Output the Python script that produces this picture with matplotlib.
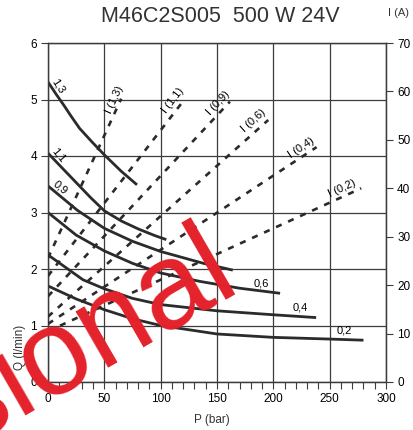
import numpy as np
import matplotlib
matplotlib.use('Agg')
import matplotlib.pyplot as plt
from matplotlib.ticker import MultipleLocator

plt.rcParams['font.family'] = ['Liberation Sans', 'DejaVu Sans']

# flow curves Q (l/min) over pressure P (bar), one per displacement
disp_names = ['1,3', '1,1', '0,9', '0,6', '0,4', '0,2']
p_13 = [0, 7, 14, 21, 28, 39, 50, 65, 79]
q_13 = [5.31, 5.10, 4.90, 4.69, 4.49, 4.25, 4.02, 3.73, 3.49]
p_11 = [0, 12, 25, 38, 50, 65, 80, 95, 105]
q_11 = [4.05, 3.80, 3.53, 3.26, 3.03, 2.85, 2.71, 2.59, 2.52]
p_09 = [0, 26, 50, 75, 100, 138, 164]
q_09 = [3.47, 3.04, 2.72, 2.49, 2.31, 2.10, 1.98]
p_06 = [0, 25, 50, 75, 100, 135, 170, 206]
q_06 = [3.00, 2.60, 2.32, 2.10, 1.93, 1.78, 1.66, 1.57]
p_04 = [0, 31, 50, 75, 100, 150, 200, 238]
q_04 = [2.25, 1.81, 1.65, 1.48, 1.37, 1.26, 1.19, 1.14]
p_02 = [0, 25, 50, 75, 100, 150, 200, 250, 280]
q_02 = [1.70, 1.47, 1.28, 1.12, 1.00, 0.85, 0.79, 0.76, 0.74]

# current lines I (A): value at P=0 and at the end of the line
i_names = ['I (1,3)', 'I (1,1)', 'I (0,9)', 'I (0,6)', 'I (0,4)', 'I (0,2)']
i_start = [25.6, 21.9, 17.7, 13.5, 12.0, 10.5]
i_end_p = [65, 120, 161.5, 195.5, 238.4, 278]
i_end = [58.5, 58.0, 57.9, 54.1, 48.5, 40.0]

p_curves = [p_13, p_11, p_09, p_06, p_04, p_02]
q_curves = [q_13, q_11, q_09, q_06, q_04, q_02]

dark = '#2b2b2b'
grid_c = '#3c3c3c'

fig = plt.figure(figsize=(4.13, 4.30), dpi=100)
ax = fig.add_axes([48/413, 1-382/430, 338/413, 339/430])
ax2 = ax.twinx()

ax.set_xlim(0, 300)
ax.set_ylim(0, 6)
ax2.set_ylim(0, 70)

ax.set_xticks(np.arange(0, 301, 50))
ax.xaxis.set_minor_locator(MultipleLocator(10))
ax.set_yticks(np.arange(0, 7, 1))
ax2.set_yticks(np.arange(0, 71, 10))
ax.grid(True, which='major', color=grid_c, lw=0.9)
ax.set_axisbelow(True)

for a in (ax, ax2):
    for s in a.spines.values():
        s.set_color(grid_c)
        s.set_linewidth(0.9)
ax.tick_params(which='both', direction='out', length=5, width=0.8, color=grid_c,
               labelsize=8.5, pad=3)
ax2.tick_params(direction='out', length=5, width=0.8, color=grid_c,
                labelsize=8.5, pad=3)

# solid flow curves
for p, q in zip(p_curves, q_curves):
    ax.plot(p, q, color=dark, lw=2.0, solid_capstyle='butt', zorder=3)

# dashed current lines
for i in range(len(i_names)):
    ax2.plot([0, i_end_p[i]], [i_start[i], i_end[i]], color=dark, lw=1.9,
             linestyle=(0, (2.3, 2.7)), zorder=3)

# labels of the current lines
i_lab_p = [59.5, 110.9, 150.8, 182.8, 224.5, 260.8]
i_lab_i = [58.2, 58.2, 57.6, 53.9, 48.3, 40.0]
for i in range(len(i_names)):
    ang = np.degrees(np.arctan2(i_end[i] - i_start[i], i_end_p[i]))
    ax2.text(i_lab_p[i], i_lab_i[i], i_names[i], fontsize=8, rotation=ang,
             transform_rotates_text=True, rotation_mode='anchor',
             ha='center', va='center', color='black', zorder=4)

# labels of the flow curves
c_lab_p = [8.9, 8.9, 10.6, 189, 223.6, 262.6]
c_lab_q = [5.24, 4.02, 3.45, 1.75, 1.31, 0.92]
c_lab_rot = [-57, -50, -40, 0, 0, 0]
for k in range(len(disp_names)):
    ax.text(c_lab_p[k], c_lab_q[k], disp_names[k], fontsize=8,
            rotation=c_lab_rot[k], rotation_mode='anchor',
            ha='center', va='center', zorder=4)

ax.text(0.485, -0.112, 'P (bar)', transform=ax.transAxes, ha='center',
        va='center', fontsize=8.5, color='#333333')
ax.text(-0.083, 0.103, 'Q (l/min)', transform=ax.transAxes, ha='center',
        va='center', rotation=90, fontsize=8.5, color='#333333')
fig.text(398/413, 1-13/430, 'I (A)', ha='center', va='center', fontsize=8,
         color='#333333')
fig.text(220/413, 1-17/430, 'M46C2S005  500 W 24V', ha='center', va='center',
         fontsize=15.5, color='#333333')

# red watermark
fig.text(241/413, 1-285/430, 'Provisional', color='#e4222b', fontsize=88,
         rotation=30, rotation_mode='anchor', ha='right', va='baseline',
         zorder=10)

fig.savefig('out.png', dpi=100)
